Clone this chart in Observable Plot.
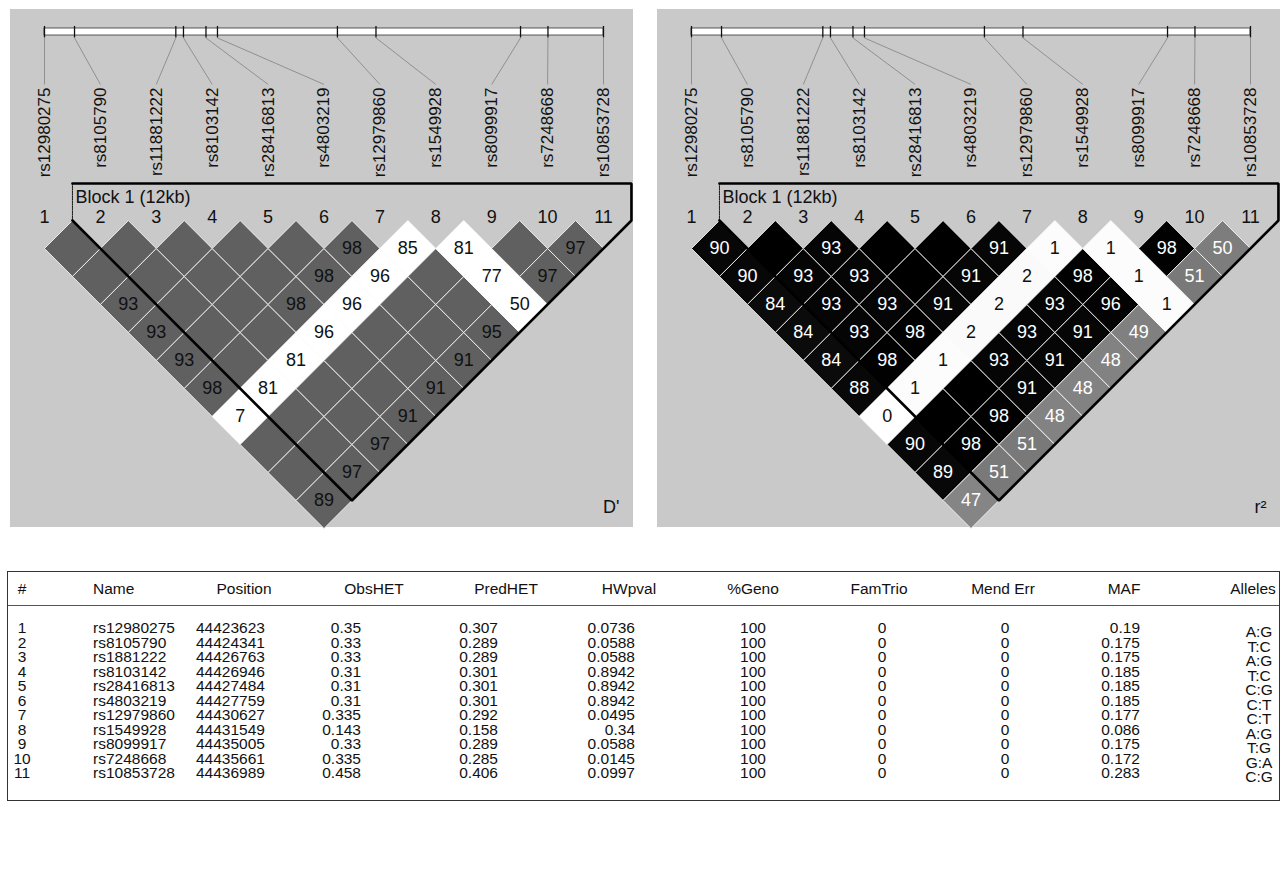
<!DOCTYPE html>
<html><head><meta charset="utf-8">
<script src="https://cdn.jsdelivr.net/npm/d3@7"></script>
<script src="https://cdn.jsdelivr.net/npm/@observablehq/plot@0.6"></script>
<style>
body{margin:0;background:#fff;font-family:"Liberation Sans",Arial,sans-serif;}
#page{position:relative;width:1283px;height:882px;overflow:hidden;background:#fff;}
.panel{position:absolute;}
.panel svg{display:block;}
#table{position:absolute;box-sizing:border-box;border:1.5px solid #333;}
.cellt{position:absolute;white-space:nowrap;font-size:15.5px;line-height:16px;color:#111;}
</style></head><body><div id="page"></div><script>
// ---------- data ----------
const snpLabels = ["rs12980275","rs8105790","rs11881222","rs8103142","rs28416813","rs4803219","rs12979860","rs1549928","rs8099917","rs7248668","rs10853728"];
const snpNames = ["rs12980275","rs8105790","rs1881222","rs8103142","rs28416813","rs4803219","rs12979860","rs1549928","rs8099917","rs7248668","rs10853728"];
const positions = [44423623,44424341,44426763,44426946,44427484,44427759,44430627,44431549,44435005,44435661,44436989];
const obsHET = ["0.35","0.33","0.33","0.31","0.31","0.31","0.335","0.143","0.33","0.335","0.458"];
const predHET = ["0.307","0.289","0.289","0.301","0.301","0.301","0.292","0.158","0.289","0.285","0.406"];
const hwPval = ["0.0736","0.0588","0.0588","0.8942","0.8942","0.8942","0.0495","0.34","0.0588","0.0145","0.0997"];
const pctGeno = ["100","100","100","100","100","100","100","100","100","100","100"];
const famTrio = ["0","0","0","0","0","0","0","0","0","0","0"];
const mendErr = ["0","0","0","0","0","0","0","0","0","0","0"];
const maf = ["0.19","0.175","0.175","0.185","0.185","0.185","0.177","0.086","0.175","0.172","0.283"];
const alleles = ["A:G","T:C","A:G","T:C","C:G","C:T","C:T","A:G","T:G","G:A","C:G"];
const tableHeaders = ["#","Name","Position","ObsHET","PredHET","HWpval","%Geno","FamTrio","Mend Err","MAF","Alleles"];

// D' x100 : dPrime[a][k] is the pair (a+1, a+2+k)
const dPrime = [
  [100,100,93,93,93,98,7,100,100,89],
  [100,100,100,100,100,81,100,100,97],
  [100,100,100,100,81,100,100,97],
  [100,100,98,96,100,100,91],
  [100,98,96,100,100,91],
  [98,96,100,100,91],
  [85,100,100,95],
  [81,77,50],
  [100,97],
  [97]
];
// pairs whose LOD is below 2 (drawn white in the D' plot)
const weakLodPairs = [[1,8],[2,8],[3,8],[4,8],[5,8],[6,8],[7,8],[8,9],[8,10],[8,11]];
// r^2 x100
const rSquared = [
  [90,90,84,84,84,88,0,90,89,47],
  [100,93,93,93,98,1,100,98,51],
  [93,93,93,98,1,100,98,51],
  [100,100,91,2,93,91,48],
  [100,91,2,93,91,48],
  [91,2,93,91,48],
  [1,98,96,49],
  [1,1,1],
  [98,51],
  [50]
];
const blocks = [{label: "Block 1 (12kb)", first: 2, last: 11}];

// ---------- layout (row units: one row = one LD diamond step) ----------
const L = {
  panelW: 623, panelH: 518,
  xRange: [34, 593], yRange: [211, 491],
  barY1: -6.857, barY2: -6.607, tickY1: -6.93, tickY2: -6.52,
  linkY1: -6.52, linkY2: -4.86, labelY: -4.75,
  blockTop: -1.32, blockTextY: -0.82, numberY: -0.12
};
const FONT = "Liberation Sans, Arial, Helvetica, sans-serif";
const n = snpLabels.length;

const diamond = {
  draw(ctx, size) {
    const a = Math.sqrt(size / Math.PI);
    ctx.moveTo(0, -a); ctx.lineTo(a, 0); ctx.lineTo(0, a); ctx.lineTo(-a, 0); ctx.closePath();
  }
};

function ldPanel(matrix, fillOf, textFillOf, cornerLabel) {
  const p0 = positions[0], p1 = positions[n - 1];
  const snps = snpLabels.map((label, k) => ({
    label, u: k + 1, num: String(k + 1),
    gu: 1 + (positions[k] - p0) / (p1 - p0) * (n - 1)
  }));
  const cells = [];
  matrix.forEach((row, a) => row.forEach((v, k) => {
    const i = a + 1, j = a + 2 + k;
    cells.push({i, j, v, u: (i + j) / 2, d: j - i});
  }));
  const half = (L.xRange[1] - L.xRange[0]) / (n - 1) / 2;
  const bar = [{x1: snps[0].gu, x2: snps[n - 1].gu}];
  const outline = [], leftEdge = [];
  blocks.forEach(b => {
    const l = b.first - 0.5, r = b.last + 0.5, mid = (b.first + b.last) / 2, bottom = b.last - b.first + 1;
    outline.push({x: l, y: L.blockTop}, {x: r, y: L.blockTop}, {x: r, y: 0}, {x: mid, y: bottom}, {x: l, y: 0});
    leftEdge.push({x: l, y: L.blockTop}, {x: l, y: 0});
  });
  return Plot.plot({
    width: L.panelW, height: L.panelH, margin: 0,
    x: {domain: [1, n], range: L.xRange, axis: null},
    y: {domain: [0, n - 1], range: L.yRange, axis: null},
    style: {background: "#c9c9c9", fontFamily: FONT, overflow: "visible"},
    marks: [
      Plot.link(snps, {x1: "gu", y1: () => L.linkY1, x2: "u", y2: () => L.linkY2, stroke: "#777", strokeWidth: 0.7}),
      Plot.rect(bar, {x1: "x1", x2: "x2", y1: () => L.barY1, y2: () => L.barY2, fill: "white", stroke: "#333", strokeWidth: 0.8}),
      Plot.ruleX(snps, {x: "gu", y1: () => L.tickY1, y2: () => L.tickY2, stroke: "#111", strokeWidth: 1.3}),
      Plot.text(snps, {x: "u", y: () => L.labelY, text: "label", rotate: -90, textAnchor: "end", lineAnchor: "middle", fontSize: 17, fill: "#111"}),
      Plot.text(snps, {x: "u", y: () => L.numberY, text: "num", fontSize: 18, fill: "#111", lineAnchor: "middle"}),
      Plot.dot(cells, {x: "u", y: "d", symbol: diamond, r: half, fill: fillOf, stroke: "white", strokeWidth: 0.8}),
      Plot.text(cells.filter(c => c.v < 100), {x: "u", y: "d", text: c => String(c.v), fill: textFillOf, fontSize: 18, lineAnchor: "middle"}),
      Plot.line(leftEdge, {x: "x", y: "y", stroke: "#111", strokeWidth: 1, strokeDasharray: "1.5,1"}),
      Plot.line(outline, {x: "x", y: "y", stroke: "#000", strokeWidth: 2.6, strokeLinejoin: "miter"}),
      Plot.text(blocks, {x: b => b.first - 0.5, y: () => L.blockTextY, text: "label", textAnchor: "start", dx: 3, fontSize: 18, fill: "#111", lineAnchor: "middle"}),
      Plot.text([cornerLabel], {frameAnchor: "bottom-right", text: d => d, dx: -14, dy: -15, fontSize: 18, fill: "#111"})
    ]
  });
}

const weakSet = new Set(weakLodPairs.map(([i, j]) => i + "-" + j));
const dFill = c => weakSet.has(c.i + "-" + c.j) ? "#ffffff" : "#606060";
const dText = c => "#111";
const rShade = d3.scaleLinear().domain([0, 0.5, 0.8, 1]).range([255, 125, 14, 0]);
const rFill = c => { const g = Math.round(rShade(c.v / 100)); return `rgb(${g},${g},${g})`; };
const rText = c => c.v >= 30 ? "#ffffff" : "#111";

const page = document.getElementById("page");
function addPanel(svg, left, top) {
  const div = document.createElement("div");
  div.className = "panel"; div.style.left = left + "px"; div.style.top = top + "px";
  div.appendChild(svg); page.appendChild(div);
}
addPanel(ldPanel(dPrime, dFill, dText, "D'"), 10, 9);
addPanel(ldPanel(rSquared, rFill, rText, "r²"), 657, 9);

// ---------- table ----------
const T = {left: 7, top: 571, width: 1273, height: 230, headerY: 17, ruleY: 33, row0: 56, rowStep: 14.5, allelesDy: 4};
const cols = [
  {values: snpNames.map((_, k) => String(k + 1)), hx: 14, ha: "center", vx: 14, va: "center"},
  {values: snpNames, hx: 85, ha: "left", vx: 85, va: "left"},
  {values: positions.map(String), hx: 236, ha: "center", vx: 188, va: "left"},
  {values: obsHET, hx: 366, ha: "center", vx: 353, va: "right"},
  {values: predHET, hx: 498, ha: "center", vx: 490, va: "right"},
  {values: hwPval, hx: 621, ha: "center", vx: 627, va: "right"},
  {values: pctGeno, hx: 745, ha: "center", vx: 745, va: "center"},
  {values: famTrio, hx: 871, ha: "center", vx: 874, va: "center"},
  {values: mendErr, hx: 995, ha: "center", vx: 997, va: "center"},
  {values: maf, hx: 1116, ha: "center", vx: 1132, va: "right"},
  {values: alleles, hx: 1245, ha: "center", vx: 1251, va: "center", dy: T.allelesDy}
];
const tbl = document.createElement("div");
tbl.id = "table";
Object.assign(tbl.style, {left: T.left + "px", top: T.top + "px", width: T.width + "px", height: T.height + "px"});
page.appendChild(tbl);
const rule = document.createElement("div");
Object.assign(rule.style, {position: "absolute", left: "0px", right: "0px", top: T.ruleY + "px", borderTop: "1px solid #555"});
tbl.appendChild(rule);
const shift = a => a === "center" ? "translateX(-50%)" : a === "right" ? "translateX(-100%)" : "none";
function put(text, x, cy, align) {
  const s = document.createElement("div");
  s.className = "cellt"; s.textContent = text;
  s.style.left = x + "px"; s.style.top = (cy - 8) + "px"; s.style.transform = shift(align);
  tbl.appendChild(s);
}
cols.forEach((c, ci) => {
  put(tableHeaders[ci], c.hx, T.headerY, c.ha);
  c.values.forEach((v, r) => put(v, c.vx, T.row0 + r * T.rowStep + (c.dy || 0), c.va));
});
</script></body></html>
